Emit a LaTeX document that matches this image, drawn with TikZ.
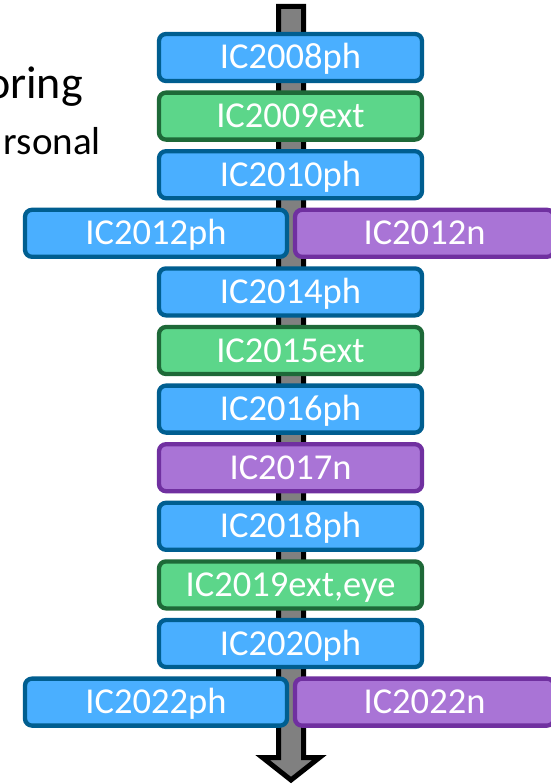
\documentclass[tikz,border=0pt]{standalone}
\usepackage{fontspec}
\setmainfont{Carlito}
\definecolor{bfill}{RGB}{74,175,255}
\definecolor{bdraw}{RGB}{0,94,144}
\definecolor{gfill}{RGB}{92,214,138}
\definecolor{gdraw}{RGB}{30,105,56}
\definecolor{pfill}{RGB}{169,116,214}
\definecolor{pdraw}{RGB}{112,48,160}
\definecolor{afill}{RGB}{128,128,128}
\tikzset{
  yearbox/.style={rectangle, rounded corners=7pt, line width=4.3pt, inner sep=0pt,
    minimum height=47pt, text=white, text height=23pt, text depth=0pt,
    font=\fontsize{36.5}{40}\selectfont},
  narrowbox/.style={yearbox, minimum width=263pt},
  widebox/.style={yearbox, minimum width=262pt},
  ph/.style={fill=bfill, draw=bdraw},
  ext/.style={fill=gfill, draw=gdraw},
  nn/.style={fill=pfill, draw=pdraw},
  sidetext/.style={anchor=base east, inner sep=0pt, text=black}
}
\begin{document}
\begin{tikzpicture}[x=1pt,y=-1pt]
\clip (0,0) rectangle (551,784);
\fill[white] (0,0) rectangle (551,784);
% timeline arrow
\draw[fill=afill, line width=5pt, line join=miter]
  (278.5,6.5) -- (303.5,6.5) -- (303.5,757.5) -- (319.5,757.5) -- (291,780) -- (262.5,757.5) -- (278.5,757.5) -- cycle;
% side text
\node[sidetext, font=\fontsize{46}{50}\selectfont] (t1) at (83,98) {oring};
\node[sidetext, font=\fontsize{39}{42}\selectfont] (t2) at (101,154) {rsonal};
% boxes
\node[narrowbox, ph]  (b08) at (290.5,57.5) {IC2008ph};
\node[narrowbox, ext] (b09) at (290.5,116.1) {IC2009ext};
\node[narrowbox, ph]  (b10) at (290.5,174.7) {IC2010ph};
\node[widebox, ph]    (b12a) at (156,233.3) {IC2012ph};
\node[widebox, nn, minimum width=259pt] (b12b) at (424.5,233.3) {IC2012n};
\node[narrowbox, ph]  (b14) at (290.5,291.9) {IC2014ph};
\node[narrowbox, ext] (b15) at (290.5,350.5) {IC2015ext};
\node[narrowbox, ph]  (b16) at (290.5,409.1) {IC2016ph};
\node[narrowbox, nn]  (b17) at (290.5,467.7) {IC2017n};
\node[narrowbox, ph]  (b18) at (290.5,526.3) {IC2018ph};
\node[narrowbox, ext] (b19) at (290.5,584.9) {IC2019ext,eye};
\node[narrowbox, ph]  (b20) at (290.5,643.5) {IC2020ph};
\node[widebox, ph]    (b22a) at (156,702.1) {IC2022ph};
\node[widebox, nn, minimum width=259pt] (b22b) at (424.5,702.1) {IC2022n};
\end{tikzpicture}
\end{document}
